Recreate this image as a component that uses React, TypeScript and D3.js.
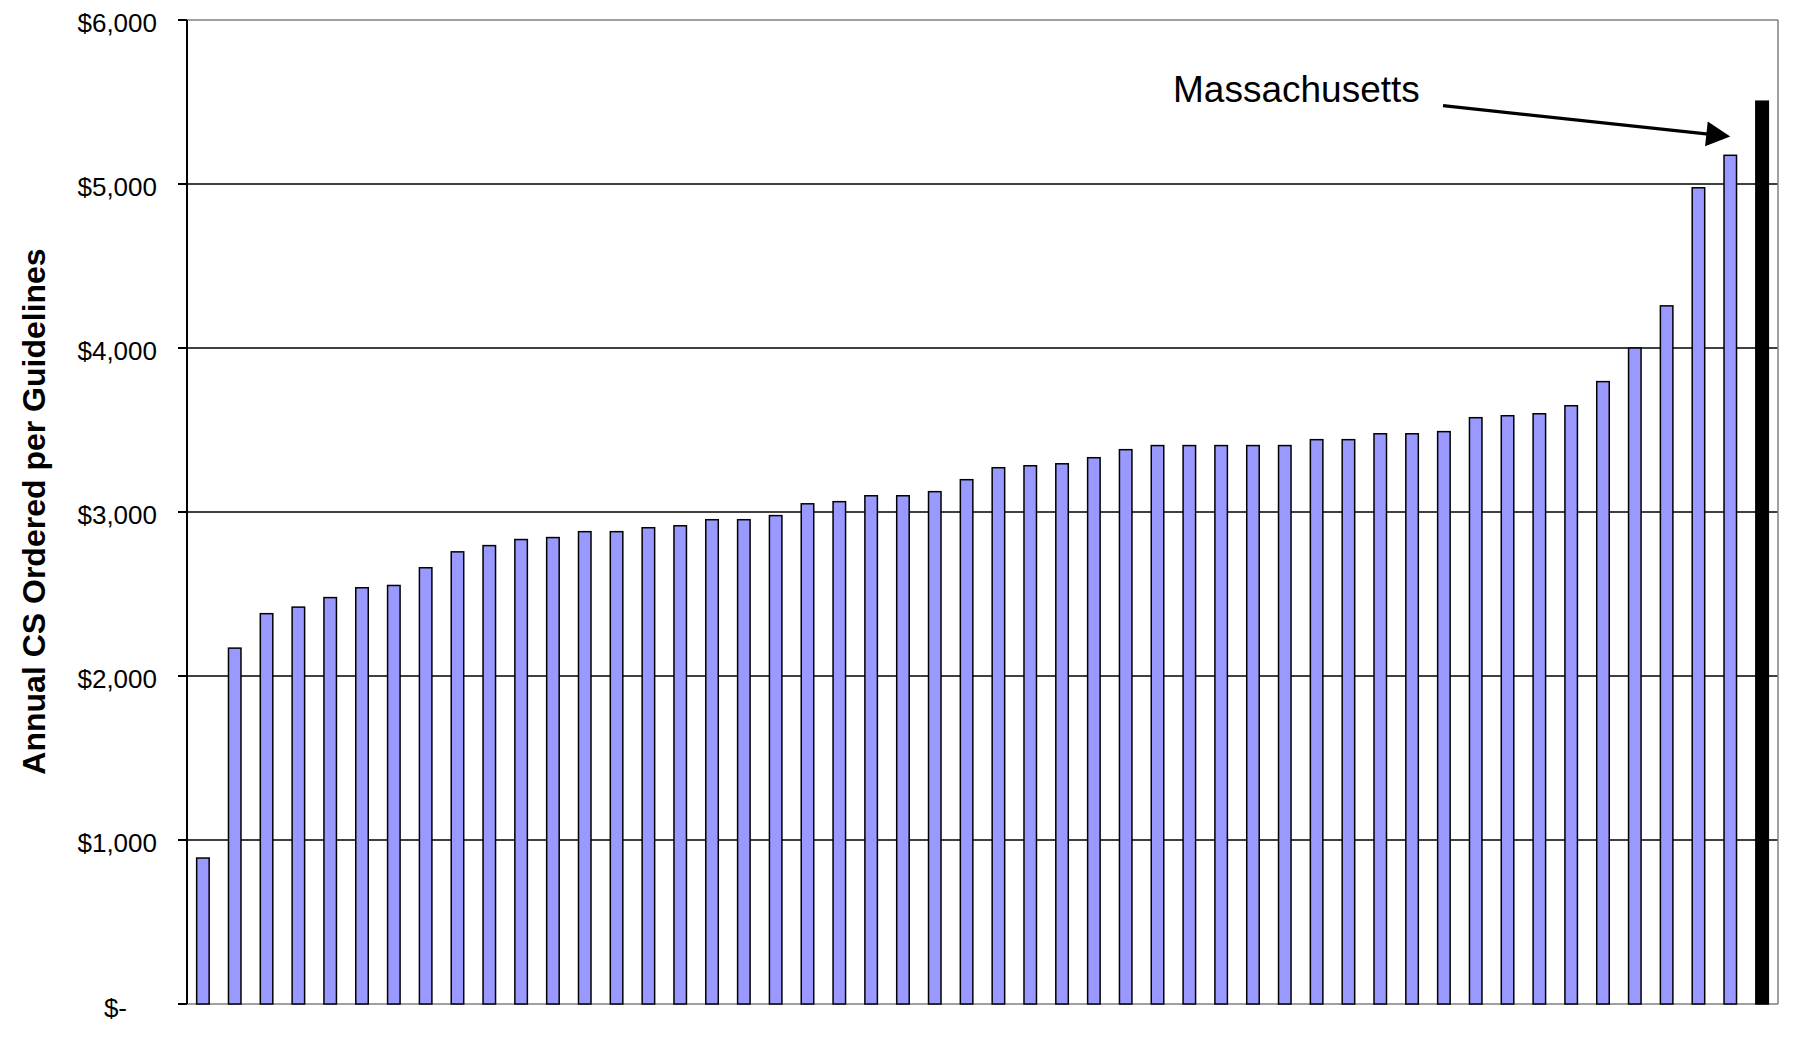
import React from "react";
import * as d3 from "d3";

const values: number[] = [
  890, 2170, 2380, 2420, 2478, 2538, 2552, 2660, 2757, 2795,
  2832, 2844, 2880, 2880, 2904, 2916, 2953, 2953, 2978, 3050,
  3063, 3099, 3099, 3124, 3197, 3270, 3282, 3294, 3331, 3380,
  3405, 3405, 3405, 3405, 3405, 3441, 3441, 3477, 3477, 3490,
  3575, 3587, 3599, 3648, 3795, 4000, 4257, 4977, 5175, 5505,
];
const categories: string[] = values.map((_, i) => `state-${i + 1}`);
const highlightIndex = 49; // Massachusetts
const highlightLabel = "Massachusetts";
const yTicks: number[] = [0, 1000, 2000, 3000, 4000, 5000, 6000];
const yTickLabels: string[] = ["$-", "$1,000", "$2,000", "$3,000", "$4,000", "$5,000", "$6,000"];
const yTitle = "Annual CS Ordered per Guidelines";
const arrowTargetValue = 5290;

const W = 1797;
const H = 1047;
const left = 187;
const right = 1778;
const top = 20;
const bottom = 1004;
const FONT = "'Liberation Sans', Arial, Helvetica, sans-serif";

export default function App() {
  const x = d3.scaleBand<string>().domain(categories).range([left, right]).paddingInner(0.56).paddingOuter(0.28);
  const y = d3.scaleLinear().domain([0, 6000]).range([bottom, top]);
  const bw = x.bandwidth();

  // arrow geometry
  const tipX = (x(categories[48]) as number) + bw / 2;
  const tipY = y(arrowTargetValue);
  const startX = 1443;
  const startY = 105.7;
  const ang = Math.atan2(tipY - startY, tipX - startX);
  const headLen = 24;
  const headHalf = 12.5;
  const baseX = tipX - headLen * Math.cos(ang);
  const baseY = tipY - headLen * Math.sin(ang);
  const px = -Math.sin(ang);
  const py = Math.cos(ang);
  const head = `${tipX},${tipY} ${baseX + px * headHalf},${baseY + py * headHalf} ${baseX - px * headHalf},${baseY - py * headHalf}`;

  return (
    <svg
      width={W}
      height={H}
      style={{ position: "absolute", left: 0, top: 0, background: "#fff", display: "block" }}
    >
      <rect x={0} y={0} width={W} height={H} fill="#fff" />
      {/* gridlines */}
      {yTicks.filter((t) => t > 0 && t < 6000).map((t) => (
        <line key={t} x1={left} x2={right} y1={y(t)} y2={y(t)} stroke="#000" strokeWidth={1.4} />
      ))}
      {/* frame */}
      <line x1={left} x2={right} y1={top} y2={top} stroke="#808080" strokeWidth={1.5} />
      <line x1={right} x2={right} y1={top} y2={bottom} stroke="#808080" strokeWidth={1.5} />
      <line x1={left} x2={right} y1={bottom} y2={bottom} stroke="#808080" strokeWidth={1.5} />
      {/* bars */}
      {values.map((v, i) => {
        const isHi = i === highlightIndex;
        const bx = x(categories[i]) as number;
        return (
          <rect
            key={i}
            x={bx + 0.75}
            y={y(v)}
            width={bw - 1.5}
            height={bottom - y(v)}
            fill={isHi ? "#000" : "#9999FF"}
            stroke="#000"
            strokeWidth={1.5}
          />
        );
      })}
      {/* y axis */}
      <line x1={left} x2={left} y1={top} y2={bottom} stroke="#000" strokeWidth={2} />
      {yTicks.map((t, i) => (
        <g key={t}>
          <line x1={left - 9} x2={left} y1={y(t)} y2={y(t)} stroke="#000" strokeWidth={2} />
          <text
            x={t === 0 ? 127 : 157}
            y={y(t) + (t === 0 ? 12.5 : 11.5)}
            textAnchor="end"
            fontFamily={FONT}
            fontSize={26}
            fill="#000"
          >
            {yTickLabels[i]}
          </text>
        </g>
      ))}
      <text
        transform={`translate(45, 511.5) rotate(-90)`}
        textAnchor="middle"
        fontFamily={FONT}
        fontSize={32}
        fontWeight="bold"
        fill="#000"
      >
        {yTitle}
      </text>
      {/* annotation */}
      <text x={1173} y={101.7} fontFamily={FONT} fontSize={37} fill="#000">
        {highlightLabel}
      </text>
      <line x1={startX} y1={startY} x2={baseX + 2 * Math.cos(ang)} y2={baseY + 2 * Math.sin(ang)} stroke="#000" strokeWidth={3.2} />
      <polygon points={head} fill="#000" />
    </svg>
  );
}
